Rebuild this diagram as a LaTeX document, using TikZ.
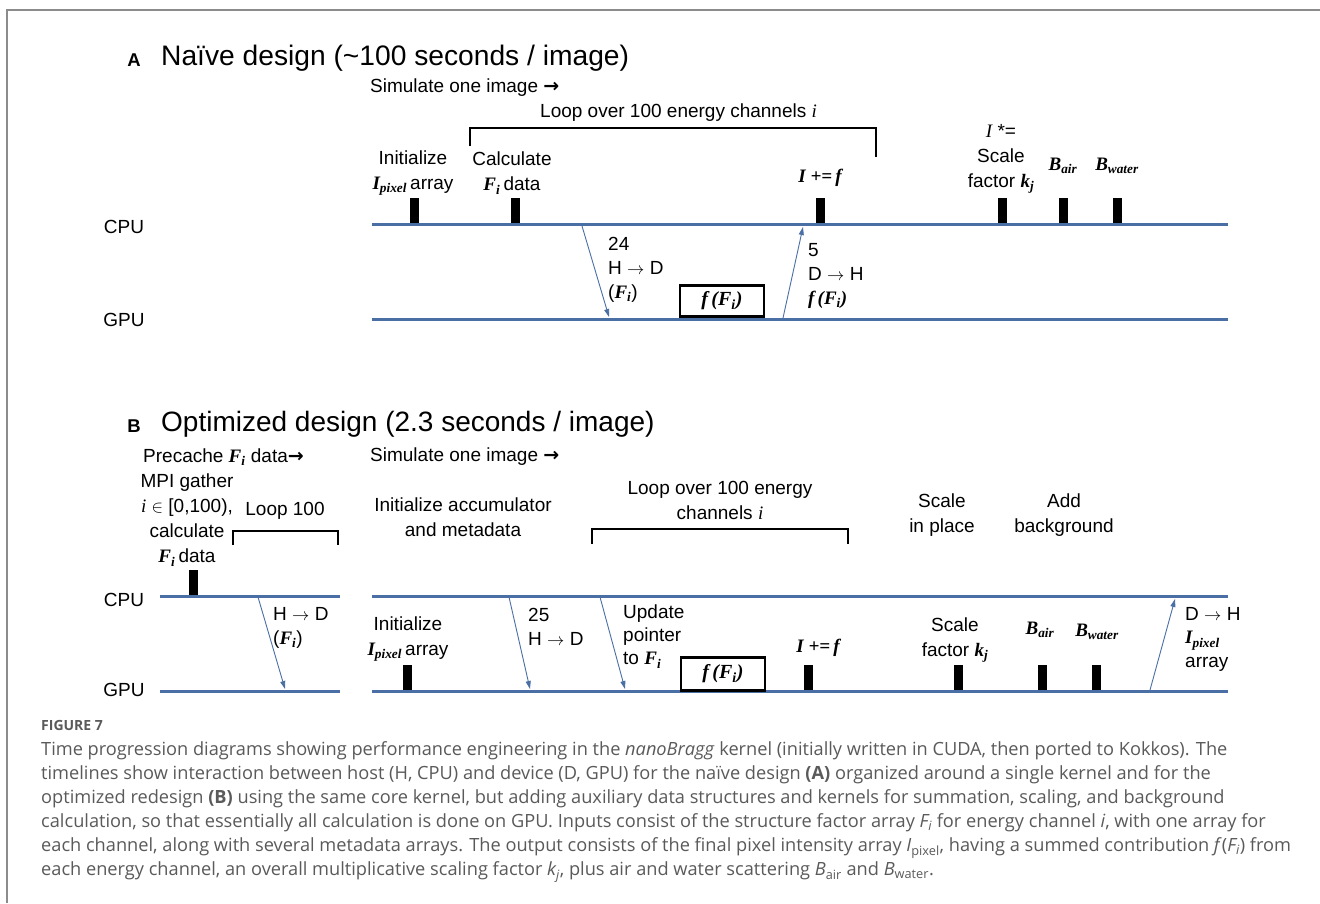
\documentclass[tikz,border=0pt]{standalone}
\usepackage{fontspec}
\setmainfont{Liberation Sans}
\newfontfamily\tnr{Liberation Serif}
\newfontfamily\capfont{Open Sans}
\newfontfamily\dvs{DejaVu Sans}
\usetikzlibrary{arrows.meta}
\definecolor{lineblue}{HTML}{4A6FA5}
\definecolor{capgray}{HTML}{5A5A5A}
\definecolor{framegray}{HTML}{8C8C8C}
\newcommand{\bi}[1]{{\tnr\bfseries\itshape #1}}
\newcommand{\ti}[1]{{\tnr\itshape #1}}
\newcommand{\fatarrow}{{\dvs\bfseries →}}
\newcommand{\thinarrow}{$\rightarrow$}
\begin{document}
\begin{tikzpicture}[x=1pt,y=-1pt,
  txt/.style={font=\fontsize{19}{25}\selectfont, inner sep=0pt, align=center},
  ltxt/.style={font=\fontsize{19}{24}\selectfont, inner sep=0pt, align=left},
  ttl/.style={font=\fontsize{28.2}{32}\selectfont, inner sep=0pt, anchor=west},
  plab/.style={font=\bfseries\fontsize{18.5}{22}\selectfont, inner sep=0pt},
  tl/.style={draw=lineblue, line width=3pt},
  tick/.style={fill=black, minimum width=9pt, minimum height=25pt, inner sep=0pt, anchor=south},
  msg/.style={draw=lineblue, line width=0.9pt, -{Triangle[length=8pt,width=5pt]}},
  kbox/.style={draw=black, line width=2.5pt, fill=white, minimum width=84pt, inner sep=0pt, font=\fontsize{20}{22}\selectfont},
  brk/.style={draw=black, line width=1.2pt},
]
\useasboundingbox (0,0) rectangle (1320,903);
\fill[white] (0,0) rectangle (1320,903);
\draw[framegray, line width=2pt] (7,903) -- (7,10) -- (1320,10);

% ---------------- Panel A ----------------
\node[plab] (labA) at (134,60) {A};
\node[ttl] (titA) at (161,58) {Naïve design (\textasciitilde100 seconds / image)};
\node[txt, anchor=west] (simA) at (370,88) {Simulate one image \fatarrow};
\node[txt, anchor=west] (loopA) at (540,113) {Loop over 100 energy channels \ti{i}};
\draw[brk] (470,146) -- (470,128) -- (876,128) -- (876,157);

\node[txt] (initA) at (413,173) {Initialize\\\bi{I\textsubscript{pixel}}\,array};
\node[txt] (calcA) at (512,173) {Calculate\\\bi{F\textsubscript{i}}\,data};
\node[txt] (accA) at (820,178) {\bi{I +=\,f}};
\node[txt] (scaleA) at (1001,159) {\ti{I} *=\\Scale\\factor \bi{k\textsubscript{j}}};
\node[txt] (bairA) at (1063,166) {\bi{B\textsubscript{air}}};
\node[txt] (bwatA) at (1117,166) {\bi{B\textsubscript{water}}};

\node[txt] (cpuA) at (124,227) {CPU};
\node[txt] (gpuA) at (124,320) {GPU};
\coordinate (cpuAs) at (372,224.5);
\coordinate (cpuAe) at (1228,224.5);
\coordinate (gpuAs) at (372,319);
\coordinate (gpuAe) at (1228,319);
\draw[tl] (cpuAs) -- (cpuAe);
\draw[tl] (gpuAs) -- (gpuAe);

\node[tick] (tA1) at (414,223) {};
\node[tick] (tA2) at (515,223) {};
\node[tick] (tA3) at (820,223) {};
\node[tick] (tA4) at (1002,223) {};
\node[tick] (tA5) at (1063,223) {};
\node[tick] (tA6) at (1117,223) {};

\node[kbox, minimum height=31pt] (boxA) at (722,301) {\bi{f\,(F\textsubscript{i})}};

\coordinate (a1s) at (582,226);
\coordinate (a1e) at (609,317);
\draw[msg] (a1s) -- (a1e);
\node[ltxt, anchor=north west] (a1l) at (608,237) {24\\H \thinarrow{} D\\(\bi{F\textsubscript{i}})};

\coordinate (a2s) at (783,318);
\coordinate (a2e) at (803,227);
\draw[msg] (a2s) -- (a2e);
\node[ltxt, anchor=north west] (a2l) at (808,243) {5\\D \thinarrow{} H\\\bi{f\,(F\textsubscript{i})}};

% ---------------- Panel B ----------------
\node[plab] (labB) at (134,426) {B};
\node[ttl, font=\fontsize{28}{32}\selectfont] (titB) at (161,424) {Optimized design (2.3 seconds / image)};
\node[txt, anchor=west] (preB) at (143,457) {Precache \bi{F\textsubscript{i}} data\fatarrow};
\node[txt, anchor=west] (simB) at (370,457) {Simulate one image \fatarrow};

\node[txt] (mpiB) at (187,520) {MPI gather\\\ti{i} $\in$ [0,100),\\calculate\\\bi{F\textsubscript{i}}\,data};
\node[txt] (loop100) at (285,511) {Loop 100};
\draw[brk] (233,545) -- (233,531) -- (338,531) -- (338,545);
\node[txt] (initacc) at (463,517) {Initialize accumulator\\and metadata};
\node[txt] (loopB) at (720,500) {Loop over 100 energy\\channels \ti{i}};
\draw[brk] (592,544) -- (592,529) -- (848,529) -- (848,544);
\node[txt] (scip) at (942,515) {Scale\\in place};
\node[txt] (addbg) at (1064,515) {Add\\background};

\node[txt] (cpuB) at (124,600) {CPU};
\node[txt] (gpuB) at (124,690) {GPU};
\coordinate (cpuB1s) at (160,596);
\coordinate (cpuB1e) at (340,596);
\coordinate (cpuB2s) at (372,596);
\coordinate (cpuB2e) at (1228,596);
\coordinate (gpuB1s) at (160,691);
\coordinate (gpuB1e) at (340,691);
\coordinate (gpuB2s) at (372,691);
\coordinate (gpuB2e) at (1228,691);
\draw[tl] (cpuB1s) -- (cpuB1e);
\draw[tl] (cpuB2s) -- (cpuB2e);
\draw[tl] (gpuB1s) -- (gpuB1e);
\draw[tl] (gpuB2s) -- (gpuB2e);

\node[tick] (tB0) at (193,595) {};
\node[tick] (tB1) at (407,690) {};
\node[tick] (tB2) at (808,690) {};
\node[tick] (tB3) at (958,690) {};
\node[tick] (tB4) at (1042,690) {};
\node[tick] (tB5) at (1096,690) {};

\node[kbox, minimum height=33pt] (boxB) at (723,674) {\bi{f\,(F\textsubscript{i})}};

\coordinate (b1s) at (258,597);
\coordinate (b1e) at (285,689);
\draw[msg] (b1s) -- (b1e);
\node[ltxt, anchor=north west] (b1l) at (273,607) {H \thinarrow{} D\\(\bi{F\textsubscript{i}})};

\node[txt] (initB) at (408,639) {Initialize\\\bi{I\textsubscript{pixel}}\,array};

\coordinate (b2s) at (509,597);
\coordinate (b2e) at (530,689);
\draw[msg] (b2s) -- (b2e);
\node[ltxt, anchor=north west] (b2l) at (528,608) {25\\H \thinarrow{} D};

\coordinate (b3s) at (600,597);
\coordinate (b3e) at (625,689);
\draw[msg] (b3s) -- (b3e);
\node[ltxt, anchor=north west, font=\fontsize{19}{23}\selectfont] (b3l) at (623,605) {Update\\pointer\\to \bi{F\textsubscript{i}}};

\node[txt] (accB) at (818,648) {\bi{I +=\,f}};
\node[txt] (scaleB) at (955,640) {Scale\\factor \bi{k\textsubscript{j}}};
\node[txt] (bairB) at (1040,630) {\bi{B\textsubscript{air}}};
\node[txt] (bwatB) at (1097,632) {\bi{B\textsubscript{water}}};

\coordinate (b4s) at (1150,690);
\coordinate (b4e) at (1175,599);
\draw[msg] (b4s) -- (b4e);
\node[ltxt, anchor=north west, font=\fontsize{19}{23.5}\selectfont] (b4l) at (1185,607) {D \thinarrow{} H\\\bi{I\textsubscript{pixel}}\\array};

% ---------------- Caption ----------------
\node[inner sep=0pt, anchor=west, text=capgray, font=\capfont\bfseries\fontsize{14}{16}\selectfont] (figlab) at (41,725) {FIGURE 7};
\node[inner sep=0pt, anchor=north west, align=left, text=capgray, font=\capfont\fontsize{18.2}{24.1}\selectfont] (cap) at (41,741) {%
Time progression diagrams showing performance engineering in the \textit{nanoBragg} kernel (initially written in CUDA, then ported to Kokkos). The\\
timelines show interaction between host (H, CPU) and device (D, GPU) for the naïve design \textbf{(A)} organized around a single kernel and for the\\
optimized redesign \textbf{(B)} using the same core kernel, but adding auxiliary data structures and kernels for summation, scaling, and background\\
calculation, so that essentially all calculation is done on GPU. Inputs consist of the structure factor array \textit{F\textsubscript{i}} for energy channel \textit{i}, with one array for\\
each channel, along with several metadata arrays. The output consists of the final pixel intensity array \textit{I}\textsubscript{pixel}, having a summed contribution \textit{f}(\textit{F\textsubscript{i}}) from\\
each energy channel, an overall multiplicative scaling factor \textit{k\textsubscript{j}}, plus air and water scattering \textit{B}\textsubscript{air} and \textit{B}\textsubscript{water}.};
\end{tikzpicture}
\end{document}
